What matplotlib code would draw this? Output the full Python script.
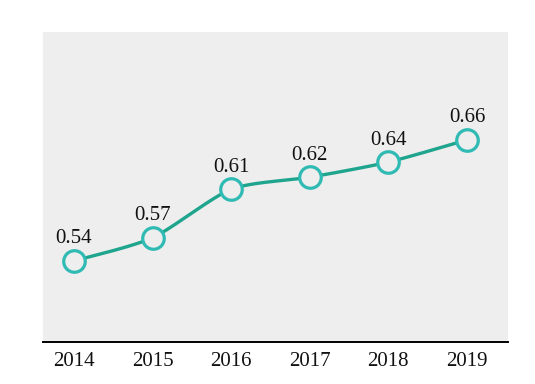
import numpy as np
import matplotlib
matplotlib.use("Agg")
import matplotlib.pyplot as plt

years = [2014, 2015, 2016, 2017, 2018, 2019]
values = [0.540, 0.563, 0.611, 0.623, 0.638, 0.660]
value_labels = ["0.54", "0.57", "0.61", "0.62", "0.64", "0.66"]

LINE = "#1fa58e"
EDGE = "#2fbab3"
BG = "#edeeed"

plt.rcParams["font.family"] = ["Liberation Serif", "DejaVu Serif"]

fig = plt.figure(figsize=(5.35, 3.84), dpi=100)
ax = fig.add_axes([0.0804, 0.1094, 0.8691, 0.8073])
ax.set_facecolor(BG)
ax.set_xlim(2013.606, 2019.522)
ax.set_ylim(0.4596, 0.767)

# smooth curve through data points
x = np.array(years, dtype=float)
y = np.array(values, dtype=float)
xs, ys = [], []
smooth = 0.25
n = len(x)
for i in range(n - 1):
    p0 = np.array([x[max(i - 1, 0)], y[max(i - 1, 0)]])
    p1 = np.array([x[i], y[i]])
    p2 = np.array([x[i + 1], y[i + 1]])
    p3 = np.array([x[min(i + 2, n - 1)], y[min(i + 2, n - 1)]])
    c1 = p1 + (p2 - p0) * smooth / 2
    c2 = p2 - (p3 - p1) * smooth / 2
    t = np.linspace(0, 1, 40)[:, None]
    pts = (1 - t) ** 3 * p1 + 3 * (1 - t) ** 2 * t * c1 + 3 * (1 - t) * t ** 2 * c2 + t ** 3 * p2
    xs.extend(pts[:, 0])
    ys.extend(pts[:, 1])
ax.plot(xs, ys, color=LINE, lw=2.4, zorder=2, solid_capstyle="round")
ax.plot(years, values, linestyle="none", marker="o", markersize=15.5,
        markerfacecolor=BG, markeredgecolor=EDGE, markeredgewidth=2.3, zorder=3)

for xv, yv, lab in zip(years, values, value_labels):
    ax.annotate(lab, (xv, yv), xytext=(0, 9), textcoords="offset points",
                ha="center", va="bottom", fontsize=15, color="#111111")

ax.set_xticks(years)
ax.set_xticklabels([str(v) for v in years], fontsize=15, color="#111111")
ax.tick_params(axis="x", length=0, pad=7)
ax.set_yticks([])
for s in ["top", "left", "right"]:
    ax.spines[s].set_visible(False)
ax.spines["bottom"].set_color("black")
ax.spines["bottom"].set_linewidth(1.4)

fig.savefig("out.png", dpi=100)
